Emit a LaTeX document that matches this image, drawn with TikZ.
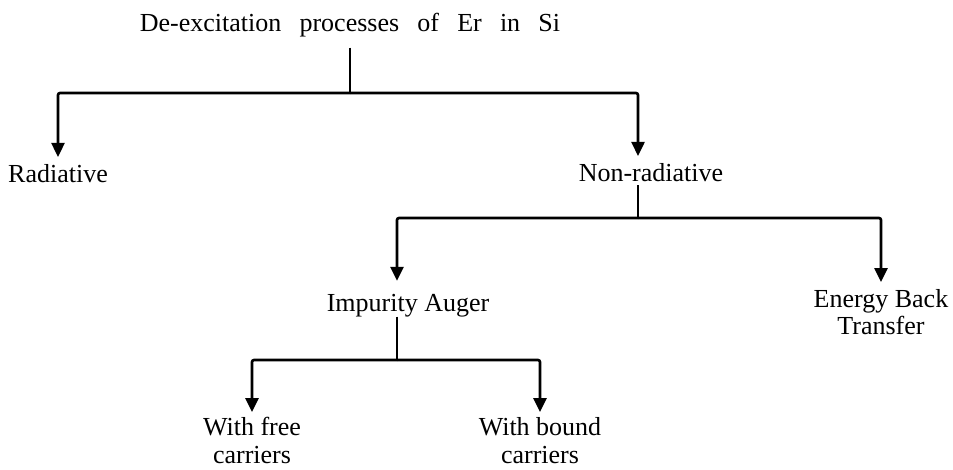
\documentclass[tikz,border=0pt]{standalone}
\usepackage{fontspec}
\setmainfont{Liberation Serif}
\usetikzlibrary{arrows.meta}
\begin{document}
\begin{tikzpicture}[x=1pt,y=-1pt,
  lbl/.style={font=\fontsize{26}{28}\selectfont, inner sep=0pt, outer sep=0pt},
  conn/.style={line width=2.6pt, rounded corners=2pt},
  arr/.style={conn, -{Triangle[width=13pt,length=14pt]}, shorten >=7pt}]
\fill[white] (0,0) rectangle (953,469);
\useasboundingbox (0,0) rectangle (953,469);
% texts
\node[lbl,anchor=base] (title) at (350,31) {De-excitation\hspace{0.45em} processes\hspace{0.45em} of\hspace{0.45em} Er\hspace{0.45em} in\hspace{0.45em} Si};
\node[lbl,anchor=base] (rad) at (58,182) {Radiative};
\node[lbl,anchor=base] (nonrad) at (651,181) {Non-radiative};
\node[lbl,anchor=base] (imp) at (408,311) {Impurity Auger};
\node[lbl,anchor=north,align=center,font=\fontsize{26}{27}\selectfont] (ebt) at (881,289) {Energy Back\\Transfer};
\node[lbl,anchor=north,align=center] (free) at (252,417) {With free\\carriers};
\node[lbl,anchor=north,align=center] (bound) at (540,417) {With bound\\carriers};
% junctions
\coordinate (j1) at (350,93);
\coordinate (j2) at (638,218);
\coordinate (j3) at (397,360);
% connectors
\draw[conn, shorten <=11pt] (j1 |- title.south) -- (j1);
\draw[arr] (j1) -| (rad.north);
\draw[arr] (j1) -| (j2 |- nonrad.north);
\draw[conn, shorten <=4pt] (j2 |- nonrad.south) -- (j2);
\draw[arr, shorten >=13pt] (j2) -| (j3 |- imp.north);
\draw[arr] (j2) -| (ebt.north);
\draw[conn] (j3 |- imp.south) -- (j3);
\draw[arr, shorten >=5pt] (j3) -| (free.north);
\draw[arr, shorten >=5pt] (j3) -| (bound.north);
\end{tikzpicture}
\end{document}
